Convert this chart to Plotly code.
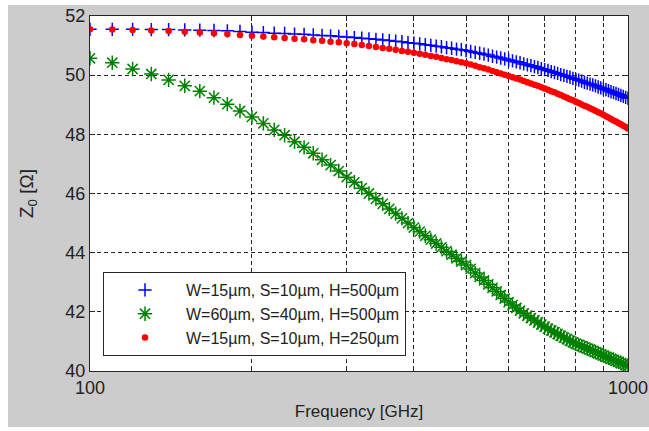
import plotly.graph_objects as go

freq = list(range(100, 1001, 10))

z_w15_h500 = [
    51.55, 51.55, 51.55, 51.54, 51.54, 51.53, 51.52, 51.51, 51.50, 51.48,
    51.45, 51.44, 51.42, 51.41, 51.39, 51.38, 51.36, 51.34, 51.33, 51.31,
    51.29, 51.27, 51.25, 51.23, 51.21, 51.19, 51.17, 51.15, 51.13, 51.10,
    51.08, 51.06, 51.03, 51.01, 50.98, 50.96, 50.93, 50.91, 50.88, 50.86,
    50.83, 50.80, 50.77, 50.74, 50.71, 50.68, 50.64, 50.61, 50.58, 50.55,
    50.51, 50.48, 50.45, 50.42, 50.38, 50.35, 50.32, 50.29, 50.26, 50.22,
    50.19, 50.16, 50.12, 50.09, 50.06, 50.02, 49.99, 49.96, 49.93, 49.89,
    49.86, 49.83, 49.80, 49.76, 49.73, 49.70, 49.67, 49.64, 49.60, 49.57,
    49.54, 49.51, 49.48, 49.44, 49.41, 49.38, 49.35, 49.32, 49.28, 49.25,
    49.22,
]

z_w60_h500 = [
    50.57, 50.42, 50.21, 50.04, 49.84, 49.64, 49.46, 49.24, 49.02, 48.79,
    48.59, 48.37, 48.15, 47.97, 47.75, 47.56, 47.36, 47.14, 46.96, 46.76,
    46.55, 46.38, 46.18, 46.00, 45.82, 45.65, 45.48, 45.32, 45.16, 45.00,
    44.85, 44.71, 44.57, 44.44, 44.31, 44.18, 44.05, 43.93, 43.81, 43.70,
    43.58, 43.45, 43.31, 43.18, 43.06, 42.93, 42.81, 42.69, 42.57, 42.45,
    42.33, 42.23, 42.13, 42.04, 41.95, 41.87, 41.79, 41.71, 41.64, 41.57,
    41.50, 41.43, 41.37, 41.31, 41.25, 41.19, 41.13, 41.08, 41.02, 40.97,
    40.92, 40.88, 40.84, 40.80, 40.76, 40.72, 40.68, 40.64, 40.60, 40.56,
    40.52, 40.48, 40.45, 40.41, 40.38, 40.34, 40.31, 40.27, 40.24, 40.20,
    40.17,
]

z_w15_h250 = [
    51.55, 51.54, 51.53, 51.51, 51.49, 51.47, 51.44, 51.42, 51.39, 51.36,
    51.33, 51.31, 51.28, 51.26, 51.23, 51.21, 51.18, 51.16, 51.13, 51.11,
    51.08, 51.05, 51.02, 50.99, 50.95, 50.92, 50.89, 50.86, 50.82, 50.79,
    50.76, 50.72, 50.69, 50.65, 50.62, 50.58, 50.54, 50.51, 50.47, 50.44,
    50.40, 50.36, 50.32, 50.27, 50.23, 50.19, 50.14, 50.10, 50.06, 50.01,
    49.97, 49.93, 49.89, 49.85, 49.80, 49.76, 49.72, 49.68, 49.64, 49.59,
    49.55, 49.51, 49.46, 49.42, 49.37, 49.33, 49.28, 49.24, 49.19, 49.15,
    49.10, 49.06, 49.01, 48.97, 48.93, 48.88, 48.84, 48.80, 48.75, 48.71,
    48.66, 48.61, 48.57, 48.52, 48.47, 48.43, 48.38, 48.34, 48.29, 48.25,
    48.20,
]

names = [
    "W=15µm, S=10µm, H=500µm",
    "W=60µm, S=40µm, H=500µm",
    "W=15µm, S=10µm, H=250µm",
]

x_major_ticks = [100, 1000]
x_minor_ticks = [200, 300, 400, 500, 600, 700, 800, 900]
y_tickvals = [40, 42, 44, 46, 48, 50, 52]

fig = go.Figure()
fig.add_trace(go.Scatter(
    x=freq, y=z_w15_h500, name=names[0], mode="markers",
    marker=dict(symbol="cross-thin-open", size=9.5, color="#0000ff",
                line=dict(color="#0000ff", width=1.5)),
))
fig.add_trace(go.Scatter(
    x=freq, y=z_w60_h500, name=names[1], mode="markers",
    marker=dict(symbol="asterisk-open", size=12, color="#008000",
                line=dict(color="#008000", width=1.5)),
))
fig.add_trace(go.Scatter(
    x=freq, y=z_w15_h250, name=names[2], mode="markers",
    marker=dict(symbol="circle", size=6.5, color="#ff0000",
                line=dict(width=0)),
))

GRID = "#262626"
DASH = "4px,3px"
axis_common = dict(
    ticks="inside", ticklen=5, tickcolor=GRID, tickwidth=1,
    showline=True, linecolor=GRID, linewidth=1, mirror="ticks",
    showgrid=True, gridcolor=GRID, gridwidth=1, griddash=DASH,
    zeroline=False, tickfont=dict(size=18, color="#222222"),
)

fig.update_xaxes(
    type="log", range=[2, 3], tickmode="array", tickvals=x_major_ticks,
    ticktext=[str(v) for v in x_major_ticks],
    minor=dict(tickmode="array", tickvals=x_minor_ticks, ticks="inside", ticklen=5,
               tickcolor=GRID, tickwidth=1, showgrid=True, gridcolor=GRID,
               gridwidth=1, griddash=DASH),
    title=dict(text="Frequency [GHz]", font=dict(size=17, color="#222222"), standoff=8),
    **axis_common,
)
fig.update_yaxes(
    range=[40, 52], tickvals=y_tickvals,
    title=dict(text="Z<sub>0</sub> [Ω]", font=dict(size=19, color="#222222"), standoff=26),
    **axis_common,
)

W, H = 649, 431
L, R, T, B = 90, 21, 16, 60
pw, ph = W - L - R, H - T - B

def px_x(p):
    return (p - L) / pw

def px_y(p):
    return (H - B - p) / ph

shapes = [
    dict(type="rect", xref="paper", yref="paper", x0=px_x(0), x1=px_x(8),
         y0=px_y(431), y1=px_y(0), fillcolor="white", line=dict(width=0), layer="above"),
    dict(type="rect", xref="paper", yref="paper", x0=px_x(0), x1=px_x(649),
         y0=px_y(5), y1=px_y(0), fillcolor="white", line=dict(width=0), layer="above"),
    dict(type="rect", xref="paper", yref="paper", x0=px_x(0), x1=px_x(649),
         y0=px_y(431), y1=px_y(427), fillcolor="white", line=dict(width=0), layer="above"),
]

fig.update_layout(
    width=W, height=H,
    margin=dict(l=L, r=R, t=T, b=B, autoexpand=False),
    paper_bgcolor="#cccccc", plot_bgcolor="white",
    font=dict(family="Liberation Sans, Arial, sans-serif", size=16, color="#222222"),
    showlegend=True,
    legend=dict(
        x=px_x(103), y=px_y(272), xanchor="left", yanchor="top",
        bgcolor="white", bordercolor=GRID, borderwidth=1,
        font=dict(size=16, color="#222222"), itemwidth=72,
    ),
    shapes=shapes,
)

fig.write_html("out.html")
